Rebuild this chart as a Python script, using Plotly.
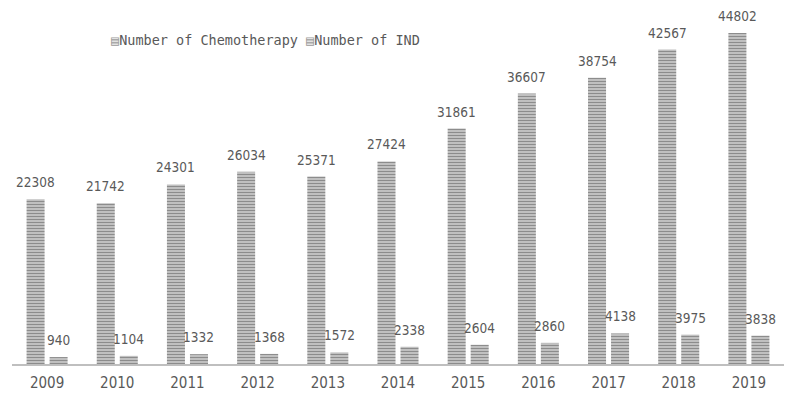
import plotly.graph_objects as go

years = ["2009", "2010", "2011", "2012", "2013", "2014", "2015", "2016", "2017", "2018", "2019"]
chemo = [22308, 21742, 24301, 26034, 25371, 27424, 31861, 36607, 38754, 42567, 44802]
ind = [940, 1104, 1332, 1368, 1572, 2338, 2604, 2860, 4138, 3975, 3838]
series_names = ["Number of Chemotherapy", "Number of IND"]

TEXT = "#595959"
NARROW = "DejaVu Sans Condensed, Liberation Sans Narrow, Liberation Sans, sans-serif"
LABEL_FONT = dict(family=NARROW, size=13.5, color=TEXT)
MONO = "DejaVu Sans Mono, Liberation Mono, monospace"

fig = go.Figure()
for name, vals in zip(series_names, [chemo, ind]):
    fig.add_trace(go.Bar(
        x=years, y=vals, name=name, showlegend=False,
        marker=dict(
            color="#a8a8a8",
            line=dict(width=0),
            pattern=dict(shape="-", size=3, solidity=0.5,
                         fgcolor="#8c8c8c", bgcolor="#d2d2d2", fillmode="replace"),
        ),
    ))

annotations = []
for shift, vals in zip([-11.5, 11.5], [chemo, ind]):
    for i, v in enumerate(vals):
        annotations.append(dict(
            x=i, y=v, text=str(v), showarrow=False, xref="x", yref="y",
            xanchor="center", yanchor="bottom", xshift=shift, yshift=7,
            font=LABEL_FONT,
        ))

# legend drawn as text items (striped square glyph + series name)
legend_x_px = [109, 304]
for px, name in zip(legend_x_px, series_names):
    annotations.append(dict(
        x=(px - 12) / 772, y=1 - (40 - 20) / 344, xref="paper", yref="paper",
        xanchor="left", yanchor="middle", showarrow=False,
        text="<span style='color:#9a9a9a'>▤</span>" + name,
        font=dict(family=MONO, size=13.5, color=TEXT),
    ))

fig.update_layout(
    width=799, height=396,
    margin=dict(l=12, r=15, t=20, b=32),
    paper_bgcolor="white", plot_bgcolor="white",
    barmode="group", bargap=0.344, bargroupgap=0.217,
    showlegend=False,
    annotations=annotations,
    xaxis=dict(
        showgrid=False, showline=True, linecolor="#bfbfbf", linewidth=2,
        ticks="", tickfont=dict(family=NARROW, size=15, color=TEXT),
        ticklabelstandoff=4,
        range=[-0.5, 10.5], automargin=False,
    ),
    yaxis=dict(showgrid=False, showline=False, showticklabels=False, zeroline=False,
               range=[0, 46560], automargin=False),
)

fig.write_html("out.html", config={"displayModeBar": False})
with open("out.html", "r", encoding="utf-8") as f:
    html = f.read()
html = html.replace("<body>", "<body style=\"margin:0;padding:0;\">", 1)
with open("out.html", "w", encoding="utf-8") as f:
    f.write(html)
